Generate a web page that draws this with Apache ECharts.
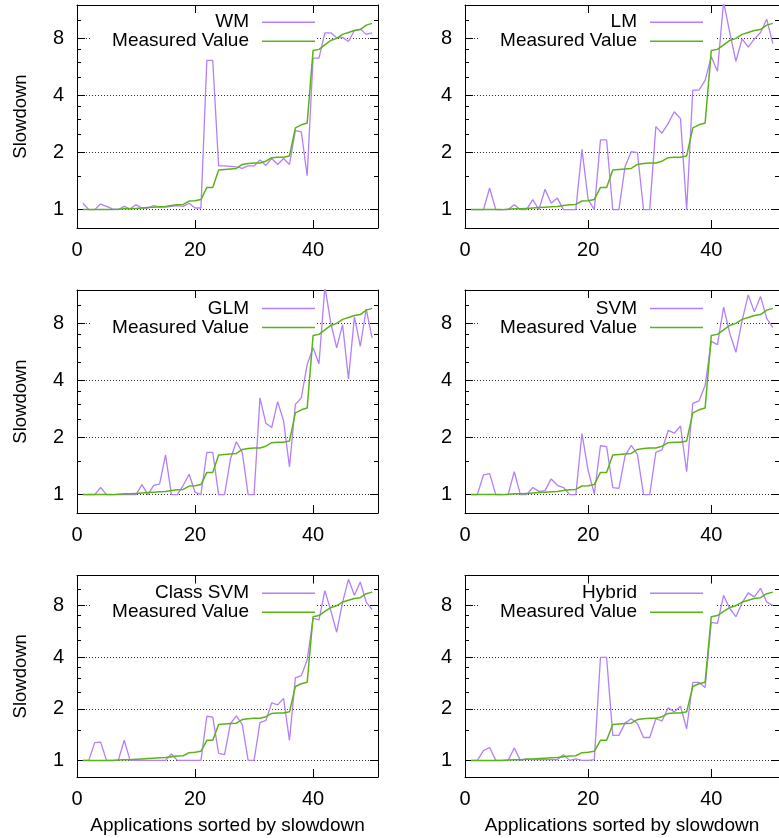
<!DOCTYPE html>
<html><head><meta charset="utf-8">
<script src="https://cdn.jsdelivr.net/npm/echarts@6/dist/echarts.min.js"></script>
<style>html,body{margin:0;padding:0;background:#fff}#c{width:779px;height:838px}</style>
</head><body><div id="c"></div>
<script>
const apps = [1,2,3,4,5,6,7,8,9,10,11,12,13,14,15,16,17,18,19,20,21,22,23,24,25,26,27,28,29,30,31,32,33,34,35,36,37,38,39,40,41,42,43,44,45,46,47,48,49,50];
const measured = [1.00,1.00,1.00,1.00,1.00,1.00,1.005,1.01,1.01,1.015,1.02,1.025,1.03,1.035,1.04,1.05,1.06,1.065,1.11,1.115,1.13,1.31,1.31,1.62,1.63,1.64,1.65,1.73,1.75,1.76,1.76,1.80,1.88,1.89,1.89,1.92,2.70,2.80,2.86,6.9,7.0,7.4,7.8,8.0,8.4,8.6,8.8,8.9,9.4,9.6];
const wm = [1.08,1.0,1.0,1.07,1.04,1.01,1.0,1.04,1.01,1.06,1.02,1.02,1.05,1.03,1.03,1.04,1.05,1.04,1.08,1.02,1.02,6.13,6.13,1.70,1.70,1.69,1.68,1.65,1.70,1.70,1.83,1.71,1.86,1.73,1.86,1.73,2.61,2.57,1.51,6.3,6.3,8.56,8.56,8.07,8.1,7.7,8.8,8.96,8.4,8.56];
const lm = [1.0,1.0,1.0,1.30,1.0,1.0,1.0,1.06,1.0,1.0,1.13,1.0,1.28,1.08,1.15,1.0,1.0,1.0,2.08,1.13,1.0,2.33,2.33,1.0,1.0,1.69,2.02,2.0,1.0,1.0,2.74,2.53,2.85,3.28,3.02,1.0,4.27,4.27,4.8,6.4,5.37,12.5,8.6,6.06,7.95,7.2,7.95,8.6,10.1,7.5];
const glm = [1.0,1.0,1.0,1.09,1.0,1.0,1.0,1.0,1.0,1.0,1.13,1.0,1.12,1.14,1.62,1.0,1.0,1.12,1.28,1.03,1.0,1.67,1.67,1.0,1.0,1.54,1.9,1.67,1.0,1.0,3.24,2.38,2.26,3.09,2.45,1.40,2.99,3.24,4.85,5.95,4.9,12.5,8.05,5.95,7.88,4.08,8.65,6.06,9.5,6.7];
const svm = [1.0,1.0,1.27,1.29,1.0,1.0,1.0,1.32,1.0,1.0,1.09,1.04,1.05,1.21,1.12,1.09,1.0,1.0,2.10,1.34,1.01,1.81,1.79,1.09,1.08,1.60,1.82,1.63,1.0,1.0,1.67,1.72,2.18,2.11,2.30,1.32,3.03,3.12,3.76,6.43,6.18,9.75,7.1,5.63,8.25,11.3,9.2,11.1,8.5,7.6];
const classSvm = [1.0,1.0,1.27,1.28,1.0,1.0,1.0,1.31,1.0,1.0,1.0,1.0,1.0,1.0,1.0,1.09,1.0,1.0,1.0,1.0,1.0,1.81,1.79,1.10,1.08,1.64,1.82,1.62,1.0,1.0,1.66,1.71,2.17,2.11,2.30,1.31,3.03,3.12,3.85,6.75,6.6,9.8,7.5,5.6,8.4,11.4,9.2,11.0,8.4,7.6];
const hybrid = [1.0,1.0,1.14,1.19,1.0,1.0,1.0,1.18,1.0,1.02,1.01,1.01,1.01,1.01,1.01,1.08,1.0,1.02,1.0,1.0,1.01,3.99,3.99,1.40,1.40,1.65,1.75,1.64,1.36,1.36,1.75,1.70,2.03,1.92,2.07,1.53,2.85,2.85,2.66,6.4,6.3,9.2,7.7,6.9,8.3,9.5,9.0,10.1,8.4,8.0];
const panelNames = ['WM','LM','GLM','SVM','Class SVM','Hybrid'];
const measuredName = 'Measured Value';
const xTicks = [0,20,40];
const yTicks = [1,2,4,8];
const yMinorTicks = [1.5,2.5,3,3.5,5,6,7,10];
const xTitle = 'Applications sorted by slowdown';
const yTitle = 'Slowdown';

const predictions = [wm, lm, glm, svm, classSvm, hybrid];
const FONT = 'Liberation Sans, Arial, Helvetica, sans-serif';
const PURPLE = '#b47ffa';
const GREEN = '#5bb417';
const cols = [{left:77, width:301}, {left:465, width:321}];
const rows = [{top:5, height:223}, {top:290, height:223}, {top:575.5, height:201.5}];
const legendRowY = [[21.7,40.7],[308,327],[592.7,611.7]];

const grid = [], xAxis = [], yAxis = [], series = [], legend = [];
const pair = ys => apps.map((a,i)=>[a, ys[i]]);

for (let g = 0; g < 6; g++) {
  const c = cols[g % 2], r = rows[Math.floor(g / 2)];
  grid.push({left:c.left, top:r.top, width:c.width, height:r.height, show:false, containLabel:false});
  const isBottom = g >= 4, isLeft = g % 2 === 0;
  const baseX = {type:'value', gridIndex:g, min:0, max:51, splitLine:{show:false},
    axisLine:{show:true, onZero:false, lineStyle:{color:'#000', width:1}}};
  xAxis.push(Object.assign({}, baseX, {position:'bottom',
    axisTick:{show:true, inside:true, length:8, customValues:xTicks, lineStyle:{color:'#000'}},
    axisLabel:{show:true, customValues:xTicks, margin:12, color:'#000', fontSize:20, fontFamily:FONT},
    name: isBottom ? xTitle : '', nameLocation:'middle', nameGap:39,
    nameTextStyle:{color:'#000', fontSize:19, fontFamily:FONT}}));
  xAxis.push(Object.assign({}, baseX, {position:'top',
    axisTick:{show:true, inside:true, length:8, customValues:xTicks, lineStyle:{color:'#000'}},
    axisLabel:{show:false}}));
  const baseY = {type:'log', logBase:2, gridIndex:g, min:0.8, max:12};
  yAxis.push(Object.assign({}, baseY, {position:'left',
    axisLine:{show:true, lineStyle:{color:'#000', width:1}},
    axisTick:{show:true, inside:true, length:8, customValues:yTicks, lineStyle:{color:'#000'}},
    axisLabel:{show:true, customValues:yTicks, margin:13, color:'#000', fontSize:20, fontFamily:FONT},
    splitLine:{show:true, lineStyle:{color:'#333', width:1, type:[1,2]}},
    name: isLeft ? yTitle : '', nameLocation:'middle', nameGap:47, nameRotate:90,
    nameTextStyle:{color:'#000', fontSize:18.5, fontFamily:FONT}}));
  yAxis.push(Object.assign({}, baseY, {position:'left',
    axisLine:{show:false}, splitLine:{show:false}, axisLabel:{show:false},
    axisTick:{show:true, inside:true, length:4, customValues:yMinorTicks, lineStyle:{color:'#000'}}}));
  yAxis.push(Object.assign({}, baseY, {position:'right',
    axisLine:{show:true, lineStyle:{color:'#000', width:1}}, splitLine:{show:false}, axisLabel:{show:false},
    axisTick:{show:true, inside:true, length:8, customValues:yTicks, lineStyle:{color:'#000'}}}));
  yAxis.push(Object.assign({}, baseY, {position:'right',
    axisLine:{show:false}, splitLine:{show:false}, axisLabel:{show:false},
    axisTick:{show:true, inside:true, length:4, customValues:yMinorTicks, lineStyle:{color:'#000'}}}));

  series.push({type:'line', name:panelNames[g], xAxisIndex:2*g, yAxisIndex:4*g, data:pair(predictions[g]),
    symbol:'none', clip:true, lineStyle:{color:PURPLE, width:1.3}, itemStyle:{color:PURPLE}, z:2, animation:false});
  series.push({type:'line', name:measuredName, xAxisIndex:2*g, yAxisIndex:4*g, data:pair(measured),
    symbol:'none', clip:true, lineStyle:{color:GREEN, width:1.5}, itemStyle:{color:GREEN}, z:3, animation:false});

  const iconRight = isLeft ? 779 - 315 : 779 - 703;
  const ly = legendRowY[Math.floor(g / 2)];
  const txt = {color:'#000', fontSize:19, fontFamily:FONT, lineHeight:18, padding:[0,8,0,0]};
  legend.push({data:[panelNames[g]], orient:'vertical', align:'right', right:iconRight, top:ly[0]-9,
    padding:0, icon:'rect', itemWidth:53, itemHeight:1.5, selectedMode:false, textStyle:txt, z:1});
  const padR = isLeft ? 2 : 12, padL = 22;
  legend.push({data:[measuredName], orient:'vertical', align:'right', right:iconRight - padR, top:ly[1]-9-2,
    padding:[2,padR,2,padL], backgroundColor:'#fff', icon:'rect', itemWidth:53, itemHeight:1.5,
    selectedMode:false, textStyle:txt, z:1});
}

const chart = echarts.init(document.getElementById('c'), null, {renderer:'canvas'});
chart.setOption({animation:false, backgroundColor:'#fff', grid, xAxis, yAxis, series, legend});
</script></body></html>
